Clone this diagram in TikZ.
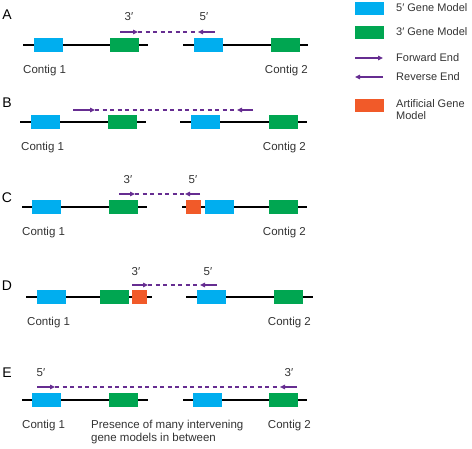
\documentclass[tikz,border=0pt]{standalone}
\usepackage{fontspec}
\setmainfont{Liberation Sans}
\usetikzlibrary{arrows.meta}
\definecolor{cblue}{HTML}{00AEEF}
\definecolor{cgreen}{HTML}{00A651}
\definecolor{corange}{HTML}{F15A29}
\definecolor{cpurple}{HTML}{662D91}
\definecolor{ctext}{HTML}{333333}
\tikzset{
  gene/.style={minimum width=29pt,minimum height=14pt,inner sep=0pt,draw=none},
  g5/.style={gene,fill=cblue},
  g3/.style={gene,fill=cgreen},
  gart/.style={gene,fill=corange,minimum width=15pt},
  contig/.style={line width=1.5pt,black},
  readend/.style={cpurple,line width=2pt,-{Triangle[length=5pt,width=4.5pt]}},
  gap/.style={cpurple,line width=2.2pt,dash pattern=on 4pt off 3.5pt},
  lbl/.style={font=\fontsize{11.5}{12.5}\selectfont,text=ctext,inner sep=0pt},
  leglbl/.style={font=\fontsize{11}{12.5}\selectfont,text=ctext,inner sep=0pt},
  panel/.style={font=\fontsize{14}{14}\selectfont,inner sep=0pt},
}
\begin{document}
\begin{tikzpicture}[x=1pt,y=-1pt]
\useasboundingbox (0,0) rectangle (472,449);

% ---------------- Panel A
\node[panel] (pA) at (7,15) {A};
\coordinate (A1s) at (23,45); \coordinate (A1e) at (148,45);
\coordinate (A2s) at (183,45); \coordinate (A2e) at (308,45);
\draw[contig] (A1s) -- (A1e); \draw[contig] (A2s) -- (A2e);
\node[g5] (Ab1) at (48,45) {}; \node[g3] (Ag1) at (124.5,45) {};
\node[g5] (Ab2) at (208,45) {}; \node[g3] (Ag2) at (285.5,45) {};
\coordinate (Afs) at (120,32); \coordinate (Afe) at (138,32);
\coordinate (Ars) at (215,32); \coordinate (Are) at (198,32);
\draw[gap] (Afe) -- (Are);
\draw[readend] (Afs) -- (Afe); \draw[readend] (Ars) -- (Are);
\node[lbl] (A3) at (129,17) {3′}; \node[lbl] (A5) at (204,17) {5′};
\node[lbl,anchor=west] (Ac1) at (23,71) {Contig 1};
\node[lbl,anchor=east] (Ac2) at (308,71) {Contig 2};

% ---------------- Panel B
\node[panel] (pB) at (7,103) {B};
\coordinate (B1s) at (20,122); \coordinate (B1e) at (146,122);
\coordinate (B2s) at (180,122); \coordinate (B2e) at (307,122);
\draw[contig] (B1s) -- (B1e); \draw[contig] (B2s) -- (B2e);
\node[g5] (Bb1) at (45.5,122) {}; \node[g3] (Bg1) at (122.5,122) {};
\node[g5] (Bb2) at (205.5,122) {}; \node[g3] (Bg2) at (283,122) {};
\coordinate (Bfs) at (73,110); \coordinate (Bfe) at (95,110);
\coordinate (Brs) at (253,110); \coordinate (Bre) at (237,110);
\draw[gap] (Bfe) -- (Bre);
\draw[readend] (Bfs) -- (Bfe); \draw[readend] (Brs) -- (Bre);
\node[lbl,anchor=west] (Bc1) at (21,148) {Contig 1};
\node[lbl,anchor=east] (Bc2) at (306,148) {Contig 2};

% ---------------- Panel C
\node[panel] (pC) at (7,198) {C};
\coordinate (C1s) at (22,207); \coordinate (C1e) at (147,207);
\coordinate (C2s) at (182,207); \coordinate (C2e) at (307,207);
\draw[contig] (C1s) -- (C1e); \draw[contig] (C2s) -- (C2e);
\node[g5] (Cb1) at (46.5,207) {}; \node[g3] (Cg1) at (123.5,207) {};
\node[gart] (Co) at (193.5,207) {};
\node[g5] (Cb2) at (219,207) {}; \node[g3] (Cg2) at (283.5,207) {};
\coordinate (Cfs) at (119,194); \coordinate (Cfe) at (135,194);
\coordinate (Crs) at (200,194); \coordinate (Cre) at (185,194);
\draw[gap] (Cfe) -- (Cre);
\draw[readend] (Cfs) -- (Cfe); \draw[readend] (Crs) -- (Cre);
\node[lbl] (C3) at (128,180) {3′}; \node[lbl] (C5) at (193,180) {5′};
\node[lbl,anchor=west] (Cc1) at (22,233) {Contig 1};
\node[lbl,anchor=east] (Cc2) at (306,233) {Contig 2};

% ---------------- Panel D
\node[panel] (pD) at (7,286) {D};
\coordinate (D1s) at (26,297); \coordinate (D1e) at (152,297);
\coordinate (D2s) at (186,297); \coordinate (D2e) at (313,297);
\draw[contig] (D1s) -- (D1e); \draw[contig] (D2s) -- (D2e);
\node[g5] (Db1) at (51,297) {}; \node[g3] (Dg1) at (114,297) {};
\node[gart] (Do) at (139.5,297) {};
\node[g5] (Db2) at (211.5,297) {}; \node[g3] (Dg2) at (288.5,297) {};
\coordinate (Dfs) at (132,285); \coordinate (Dfe) at (148,285);
\coordinate (Drs) at (217,285); \coordinate (Dre) at (200,285);
\draw[gap] (Dfe) -- (Dre);
\draw[readend] (Dfs) -- (Dfe); \draw[readend] (Drs) -- (Dre);
\node[lbl] (D3) at (136,272) {3′}; \node[lbl] (D5) at (208,272) {5′};
\node[lbl,anchor=west] (Dc1) at (27,323) {Contig 1};
\node[lbl,anchor=east] (Dc2) at (311,323) {Contig 2};

% ---------------- Panel E
\node[panel] (pE) at (7,373) {E};
\coordinate (E1s) at (22,400); \coordinate (E1e) at (148,400);
\coordinate (E2s) at (183,400); \coordinate (E2e) at (307,400);
\draw[contig] (E1s) -- (E1e); \draw[contig] (E2s) -- (E2e);
\node[g5] (Eb1) at (46.5,400) {}; \node[g3] (Eg1) at (123.5,400) {};
\node[g5] (Eb2) at (207.5,400) {}; \node[g3] (Eg2) at (283.5,400) {};
\coordinate (Efs) at (37,387); \coordinate (Efe) at (55,387);
\coordinate (Ers) at (297,387); \coordinate (Ere) at (280,387);
\draw[gap] (Efe) -- (Ere);
\draw[readend] (Efs) -- (Efe); \draw[readend] (Ers) -- (Ere);
\node[lbl] (E5) at (41,373) {5′}; \node[lbl] (E3) at (289,373) {3′};
\node[lbl,anchor=west] (Ec1) at (22,426) {Contig 1};
\node[lbl,anchor=east] (Ec2) at (311,426) {Contig 2};
\node[lbl,anchor=north west,align=left] (Ein) at (91,420) {Presence of many intervening\\gene models in between};

% ---------------- Legend
\node[g5,minimum height=13pt] (L5) at (369.5,8.5) {};
\node[leglbl,anchor=west] (L5t) at (396,8) {5′ Gene Model};
\node[g3,minimum height=13pt] (L3) at (369.5,33) {};
\node[leglbl,anchor=west] (L3t) at (396,32) {3′ Gene Model};
\coordinate (Lfs) at (355,58); \coordinate (Lfe) at (383,58);
\draw[readend] (Lfs) -- (Lfe);
\node[leglbl,anchor=west] (Lft) at (396,58) {Forward End};
\coordinate (Lrs) at (383,77); \coordinate (Lre) at (355,77);
\draw[readend] (Lrs) -- (Lre);
\node[leglbl,anchor=west] (Lrt) at (396,77) {Reverse End};
\node[gart,minimum width=29pt,minimum height=13pt] (Lo) at (369.5,105.5) {};
\node[leglbl,anchor=north west,align=left] (Lot) at (396,99) {Artificial Gene\\Model};
\end{tikzpicture}
\end{document}
